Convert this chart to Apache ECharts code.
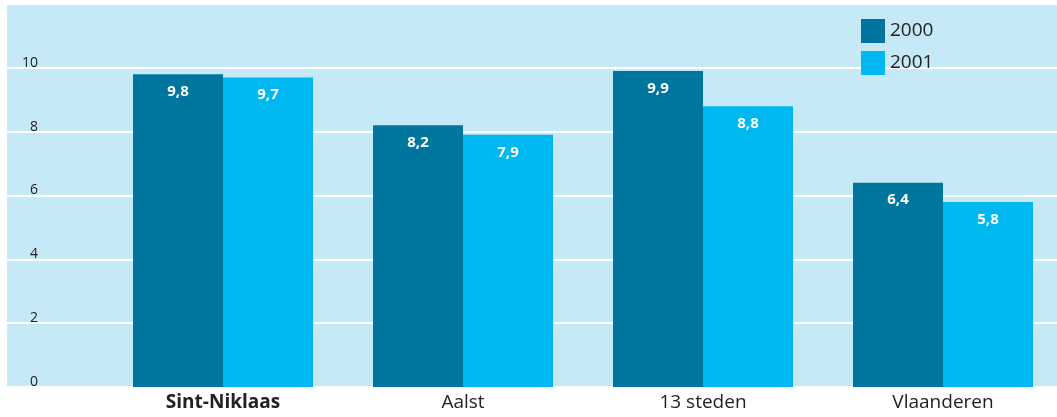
<!DOCTYPE html>
<html>
<head>
<meta charset="utf-8">
<script src="https://cdn.jsdelivr.net/npm/echarts@6/dist/echarts.min.js"></script>
<style>
  html, body { margin: 0; padding: 0; background: #fff; }
  #chart { width: 1057px; height: 417px; }
</style>
</head>
<body>
<div id="chart"></div>
<script>
// data
const categories = ['Sint-Niklaas', 'Aalst', '13 steden', 'Vlaanderen']
const years = ['2000', '2001']
const values2000 = [9.8, 8.2, 9.9, 6.4]
const values2001 = [9.7, 7.9, 8.8, 5.8]
const yTicks = [0, 2, 4, 6, 8, 10]

const darkBlue = '#00769f'
const lightBlue = '#00b8f0'
const font = '"Open Sans", Lato, sans-serif'

const chart = echarts.init(document.getElementById('chart'))

// label 9.8 -> "9,8"
const commaLabel = p => String(p.value).replace('.', ',')

const barLabel = {
  show: true,
  position: 'insideTop',
  distance: 10,
  color: '#fff',
  fontWeight: 'bold',
  fontSize: 15,
  fontFamily: font,
  formatter: commaLabel
}

const options = {
  animation: false,
  legend: {
    orient: 'vertical',
    left: 856,
    top: 14,
    itemWidth: 24,
    itemHeight: 24,
    itemGap: 8,
    icon: 'rect',
    textStyle: { fontSize: 19, color: '#222', fontFamily: font },
    data: years
  },
  grid: [
    // bars (band of 240px per category, runs a bit past the right edge)
    { left: 103, width: 960, top: 4, height: 383, outerBoundsMode: 'none' },
    // background + gridlines
    { left: 7, width: 1050, top: 4, height: 383, show: true, backgroundColor: '#c6e9f8', borderWidth: 0, z: -1, outerBoundsMode: 'none' }
  ],
  xAxis: [
    {
      type: 'category',
      gridIndex: 0,
      data: categories.map((c, i) => i === 0
        ? { value: c, textStyle: { fontWeight: 'bold' } }
        : c),
      axisLine: { show: false },
      axisTick: { show: false },
      axisLabel: { color: '#222', fontSize: 19, fontFamily: font, margin: 6 }
    },
    { type: 'value', gridIndex: 1, show: false }
  ],
  yAxis: [
    { type: 'value', gridIndex: 0, min: 0, max: 12, interval: 2, show: false },
    {
      type: 'value',
      gridIndex: 1,
      min: 0,
      max: 12,
      interval: 2,
      axisLine: { show: false },
      axisTick: { show: false },
      splitLine: { lineStyle: { color: '#fff', width: 2 } },
      axisLabel: {
        color: '#222',
        fontSize: 14,
        fontFamily: font,
        align: 'right',
        verticalAlign: 'bottom',
        margin: -31,
        padding: [0, 0, -2, 0],
        formatter: v => (yTicks.includes(v) ? String(v) : '')
      }
    }
  ],
  series: [
    {
      name: years[0],
      type: 'bar',
      xAxisIndex: 0,
      yAxisIndex: 0,
      data: values2000,
      barGap: '0%',
      barCategoryGap: '25%',
      itemStyle: { color: darkBlue },
      label: barLabel
    },
    {
      name: years[1],
      type: 'bar',
      xAxisIndex: 0,
      yAxisIndex: 0,
      data: values2001,
      barGap: '0%',
      barCategoryGap: '25%',
      itemStyle: { color: lightBlue },
      label: barLabel
    }
  ]
}

chart.setOption(options)
</script>
</body>
</html>
